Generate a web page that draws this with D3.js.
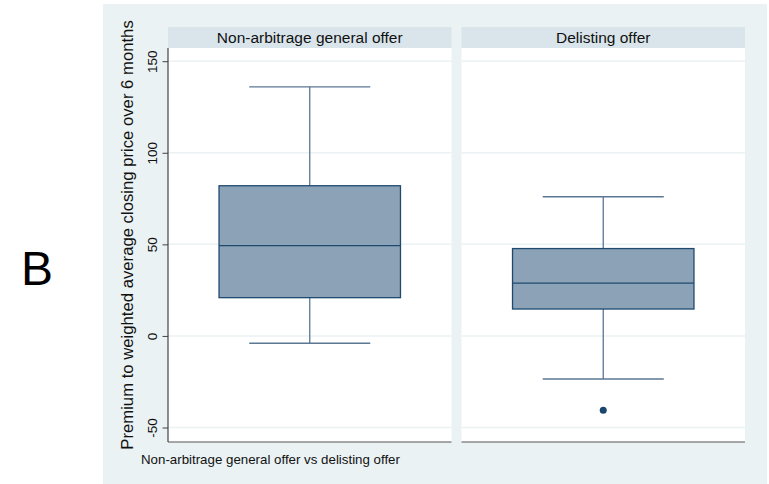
<!DOCTYPE html>
<html>
<head>
<meta charset="utf-8">
<script src="https://cdn.jsdelivr.net/npm/d3@7"></script>
<style>
  body { margin: 0; background: #fff; }
  svg { display: block; font-family: "Liberation Sans", Arial, sans-serif; }
</style>
</head>
<body>
<svg id="chart"></svg>
<script>
// Data
const groups = ["Non-arbitrage general offer", "Delisting offer"];
const whiskerHigh = [136, 76];
const q3 = [82, 47.7];
const median = [49.3, 28.8];
const q1 = [20.9, 14.7];
const whiskerLow = [-4, -23.5];
const outliers = [[], [-40.6]];
const yTicks = [-50, 0, 50, 100, 150];

const width = 769, height = 484;
const plotTop = 48, plotBottom = 442;

const svg = d3.select("#chart").attr("width", width).attr("height", height);

// Outer background
svg.append("rect")
  .attr("x", 103).attr("y", 4)
  .attr("width", 664).attr("height", 480)
  .attr("fill", "#eaf2f3");

// Scales
const x = d3.scaleBand()
  .domain(groups)
  .range([168, 745])
  .paddingInner(0.034);

const y = d3.scaleLinear()
  .domain([-57.9, 157.2])
  .range([plotBottom, plotTop]);

const bw = x.bandwidth();
const boxW = bw * 0.64;
const capW = bw * 0.427;

const panels = svg.selectAll("g.panel")
  .data(groups)
  .join("g")
  .attr("class", "panel")
  .attr("transform", d => `translate(${x(d)},0)`);

// Strip header
panels.append("rect")
  .attr("x", 0).attr("y", 27)
  .attr("width", bw).attr("height", 21)
  .attr("fill", "#d9e5eb");

panels.append("text")
  .attr("x", bw / 2).attr("y", 42.5)
  .attr("text-anchor", "middle")
  .attr("font-size", 15.5)
  .attr("fill", "#111")
  .text(d => d);

// Plot area
panels.append("rect")
  .attr("x", 0).attr("y", plotTop)
  .attr("width", bw).attr("height", plotBottom - plotTop)
  .attr("fill", "#fff");

// Grid lines
panels.selectAll("line.grid")
  .data(yTicks)
  .join("line")
  .attr("class", "grid")
  .attr("x1", 0).attr("x2", bw)
  .attr("y1", d => y(d)).attr("y2", d => y(d))
  .attr("stroke", "#eaf2f3")
  .attr("stroke-width", 1.5);

// Bottom axis line
panels.append("line")
  .attr("x1", 0).attr("x2", bw)
  .attr("y1", plotBottom).attr("y2", plotBottom)
  .attr("stroke", "#555")
  .attr("stroke-width", 1.2);

// Boxes
panels.each(function (d, i) {
  const g = d3.select(this);
  const cx = bw / 2;
  const whiskerColor = "#5b7793";

  // whiskers
  g.append("line")
    .attr("x1", cx).attr("x2", cx)
    .attr("y1", y(whiskerHigh[i])).attr("y2", y(q3[i]))
    .attr("stroke", whiskerColor).attr("stroke-width", 1.3);
  g.append("line")
    .attr("x1", cx).attr("x2", cx)
    .attr("y1", y(q1[i])).attr("y2", y(whiskerLow[i]))
    .attr("stroke", whiskerColor).attr("stroke-width", 1.3);
  [whiskerHigh[i], whiskerLow[i]].forEach(v => {
    g.append("line")
      .attr("x1", cx - capW / 2).attr("x2", cx + capW / 2)
      .attr("y1", y(v)).attr("y2", y(v))
      .attr("stroke", whiskerColor).attr("stroke-width", 1.3);
  });

  // box
  g.append("rect")
    .attr("x", cx - boxW / 2).attr("y", y(q3[i]))
    .attr("width", boxW).attr("height", y(q1[i]) - y(q3[i]))
    .attr("fill", "#8ca2b6")
    .attr("stroke", "#1f4a70")
    .attr("stroke-width", 1.3);

  // median
  g.append("line")
    .attr("x1", cx - boxW / 2).attr("x2", cx + boxW / 2)
    .attr("y1", y(median[i])).attr("y2", y(median[i]))
    .attr("stroke", "#1f4a70").attr("stroke-width", 1.3);

  // outliers
  g.selectAll("circle")
    .data(outliers[i])
    .join("circle")
    .attr("cx", cx).attr("cy", v => y(v))
    .attr("r", 3.5)
    .attr("fill", "#1a476f");
});

// Y axis
const yAxis = svg.append("g")
  .attr("transform", `translate(168,0)`)
  .call(d3.axisLeft(y).tickValues(yTicks).tickSize(5.5).tickPadding(0).tickFormat(d => String(d)));

yAxis.select(".domain")
  .attr("d", `M0,${plotTop}V${plotBottom}`)
  .attr("stroke", "#444")
  .attr("stroke-width", 1.2);
yAxis.selectAll(".tick line").attr("stroke", "#444");
yAxis.selectAll(".tick text")
  .attr("x", 0).attr("y", 0)
  .attr("transform", "translate(-11,0) rotate(-90)")
  .attr("text-anchor", "middle")
  .attr("dy", 0)
  .attr("font-size", 13.5)
  .attr("font-family", "Liberation Sans, Arial, sans-serif")
  .attr("fill", "#111");

// Y axis title
svg.append("text")
  .attr("transform", "translate(133,235) rotate(-90)")
  .attr("text-anchor", "middle")
  .attr("font-size", 16.7)
  .attr("fill", "#111")
  .text("Premium to weighted average closing price over 6 months");

// Note
svg.append("text")
  .attr("x", 141).attr("y", 464)
  .attr("font-size", 13.3)
  .attr("fill", "#111")
  .text("Non-arbitrage general offer vs delisting offer");

// Panel label
svg.append("text")
  .attr("x", 21).attr("y", 285)
  .attr("font-size", 48)
  .attr("fill", "#000")
  .text("B");
</script>
</body>
</html>
